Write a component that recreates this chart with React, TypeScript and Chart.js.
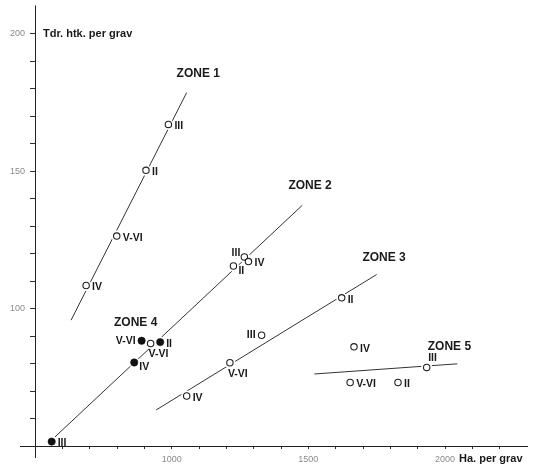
import React, { useEffect, useRef } from 'react';
import { Chart, registerables } from 'chart.js';
Chart.register(...registerables);

// ---- data (x = Ha. per grav, y = Tdr. htk. per grav) ----
const zone1X = [988, 906, 799, 687];
const zone1Y = [167, 150.3, 126.4, 108.4];
const zone1Labels = ['III', 'II', 'V-VI', 'IV'];

const zone2X = [1266, 1281, 1226, 923];
const zone2Y = [118.8, 117.1, 115.5, 87.3];
const zone2Labels = ['III', 'IV', 'II', 'V-VI'];

const zone3X = [1329, 1622, 1213, 1055];
const zone3Y = [90.3, 103.9, 80.3, 68.2];
const zone3Labels = ['III', 'II', 'V-VI', 'IV'];

const zone4X = [890, 958, 863, 561];
const zone4Y = [88.3, 87.8, 80.4, 51.6];
const zone4Labels = ['V-VI', 'II', 'IV', 'III'];

const zone5X = [1667, 1933, 1653, 1828];
const zone5Y = [86.1, 78.6, 73.1, 73.1];
const zone5Labels = ['IV', 'III', 'V-VI', 'II'];

// trend lines (end points)
const line1X = [632, 1055];
const line1Y = [95.8, 178.6];
const line24X = [573, 1478];
const line24Y = [53.3, 137.6];
const line3X = [943, 1750];
const line3Y = [63.1, 112.4];
const line5X = [1522, 2045];
const line5Y = [76.2, 79.9];

const zoneNames = ['ZONE 1', 'ZONE 2', 'ZONE 3', 'ZONE 4', 'ZONE 5'];
const zoneLabelX = [1018, 1427, 1698, 789, 1937];
const zoneLabelY = [185.5, 144.6, 118.6, 94.7, 86.1];

const xTickLabels = [1000, 1500, 2000];
const yTickLabels = [100, 150, 200];
const xTitle = 'Ha. per grav';
const yTitle = 'Tdr. htk. per grav';

// label placement codes (style only)
const place1 = ['r', 'r', 'r', 'r'];
const place2 = ['tl', 'r', 'br', 'b'];
const place3 = ['l', 'r', 'b', 'r'];
const place4 = ['l', 'r', 'br', 'r'];
const place5 = ['r', 't', 'r', 'r'];

const pts = (xs: number[], ys: number[]) => xs.map((x, i) => ({ x, y: ys[i] }));

const FONT = "'Liberation Sans', Arial, Helvetica, sans-serif";
const INK = '#1a1a1a';

const labelPlugin = {
  id: 'labels',
  afterDatasetsDraw(chart: any) {
    const { ctx, scales, chartArea } = chart;
    const xs = scales.x;
    const ys = scales.y;
    ctx.save();
    const groups: [number[], number[], string[], string[]][] = [
      [zone1X, zone1Y, zone1Labels, place1],
      [zone2X, zone2Y, zone2Labels, place2],
      [zone3X, zone3Y, zone3Labels, place3],
      [zone4X, zone4Y, zone4Labels, place4],
      [zone5X, zone5Y, zone5Labels, place5],
    ];
    ctx.fillStyle = INK;
    ctx.font = `bold 10.5px ${FONT}`;
    ctx.textBaseline = 'middle';
    groups.forEach(([gx, gy, gl, gp]) => {
      gx.forEach((v, i) => {
        const px = xs.getPixelForValue(v);
        const py = ys.getPixelForValue(gy[i]);
        let tx = px + 6, ty = py + 2, al: CanvasTextAlign = 'left';
        switch (gp[i]) {
          case 'l': tx = px - 6; ty = py; al = 'right'; break;
          case 'tl': tx = px - 4; ty = py - 4; al = 'right'; break;
          case 'br': tx = px + 5; ty = py + 5; al = 'left'; break;
          case 'b': tx = px - 2; ty = py + 11; al = 'left'; break;
          case 't': tx = px + 1.5; ty = py - 9; al = 'left'; break;
        }
        ctx.textAlign = al;
        ctx.fillText(gl[i], tx, ty);
      });
    });
    ctx.font = `bold 12px ${FONT}`;
    ctx.textAlign = 'left';
    zoneNames.forEach((n, i) => {
      ctx.fillText(n, xs.getPixelForValue(zoneLabelX[i]), ys.getPixelForValue(zoneLabelY[i]));
    });
    ctx.font = `bold 11px ${FONT}`;
    ctx.fillText(yTitle, chartArea.left + 8, ys.getPixelForValue(200));
    ctx.fillText(xTitle, xs.getPixelForValue(2000) + 14, chartArea.bottom + 13);
    ctx.strokeStyle = '#222';
    ctx.lineWidth = 1;
    ctx.beginPath();
    ctx.moveTo(chartArea.left - 15, chartArea.bottom + 0.5);
    ctx.lineTo(chartArea.left, chartArea.bottom + 0.5);
    ctx.moveTo(chartArea.left + 0.5, chartArea.bottom);
    ctx.lineTo(chartArea.left + 0.5, chartArea.bottom + 12);
    ctx.moveTo(chartArea.left + 0.5, chartArea.top);
    ctx.lineTo(chartArea.left + 0.5, chartArea.top - 5);
    ctx.stroke();
    ctx.restore();
  },
};

export default function App() {
  const ref = useRef<HTMLCanvasElement | null>(null);
  useEffect(() => {
    if (!ref.current) return;
    const allOpen = [
      ...pts(zone1X, zone1Y),
      ...pts(zone2X, zone2Y),
      ...pts(zone3X, zone3Y),
      ...pts(zone5X, zone5Y),
    ];
    const filled = pts(zone4X, zone4Y);
    const lineDs = (xs: number[], ys: number[]) => ({
      type: 'line' as const,
      data: pts(xs, ys),
      showLine: true,
      borderColor: '#333',
      borderWidth: 1,
      pointRadius: 0,
      order: 3,
    });
    const chart = new Chart(ref.current, {
      type: 'scatter',
      data: {
        datasets: [
          lineDs(line1X, line1Y),
          lineDs(line24X, line24Y),
          lineDs(line3X, line3Y),
          lineDs(line5X, line5Y),
          {
            data: [...allOpen, ...filled],
            pointRadius: 5.5,
            pointBackgroundColor: '#ffffff',
            pointBorderWidth: 0,
            pointBorderColor: 'rgba(0,0,0,0)',
            order: 2,
          } as any,
          {
            data: allOpen,
            pointRadius: 3.2,
            pointBackgroundColor: '#ffffff',
            pointBorderColor: '#222',
            pointBorderWidth: 1.1,
            order: 1,
          } as any,
          {
            data: filled,
            pointRadius: 3.7,
            pointBackgroundColor: '#111',
            pointBorderColor: '#111',
            pointBorderWidth: 0.5,
            order: 0,
          } as any,
        ],
      },
      options: {
        animation: false,
        responsive: false,
        events: [],
        layout: { padding: { top: 0, right: 10, left: 0, bottom: 0 } },
        plugins: { legend: { display: false }, tooltip: { enabled: false } },
        scales: {
          x: {
            type: 'linear',
            min: 500,
            max: 2300,
            afterFit: (s: any) => { s.height = 19; },
            border: { display: true, color: '#222', width: 1 },
            grid: {
              drawOnChartArea: false,
              drawTicks: true,
              tickLength: 3,
              color: (c: any) => (c.tick && (c.tick.value <= 500 || c.tick.value > 2200) ? 'rgba(0,0,0,0)' : '#333'),
            },
            ticks: {
              stepSize: 100,
              autoSkip: false,
              maxRotation: 0,
              padding: 5,
              color: '#8a8a8a',
              font: { size: 9, family: FONT },
              callback: (v: any) => (xTickLabels.includes(Number(v)) ? String(v) : ''),
            },
          },
          y: {
            type: 'linear',
            min: 50,
            max: 208.5,
            afterFit: (s: any) => { s.width = 35; },
            border: { display: true, color: '#222', width: 1 },
            grid: {
              drawOnChartArea: false,
              drawTicks: true,
              tickLength: 5,
              color: (c: any) => (c.tick && (c.tick.value <= 50 || c.tick.value > 200) ? 'rgba(0,0,0,0)' : '#333'),
            },
            ticks: {
              stepSize: 10,
              autoSkip: false,
              padding: 5,
              color: '#8a8a8a',
              font: { size: 9, family: FONT },
              callback: (v: any) => (yTickLabels.includes(Number(v)) ? String(v) : ''),
            },
          },
        },
      },
      plugins: [labelPlugin],
    } as any);
    return () => chart.destroy();
  }, []);
  return (
    <div style={{ position: 'absolute', left: 0, top: 0, width: 537, height: 465, background: '#fff' }}>
      <canvas ref={ref} width={537} height={465} style={{ display: 'block' }} />
    </div>
  );
}
